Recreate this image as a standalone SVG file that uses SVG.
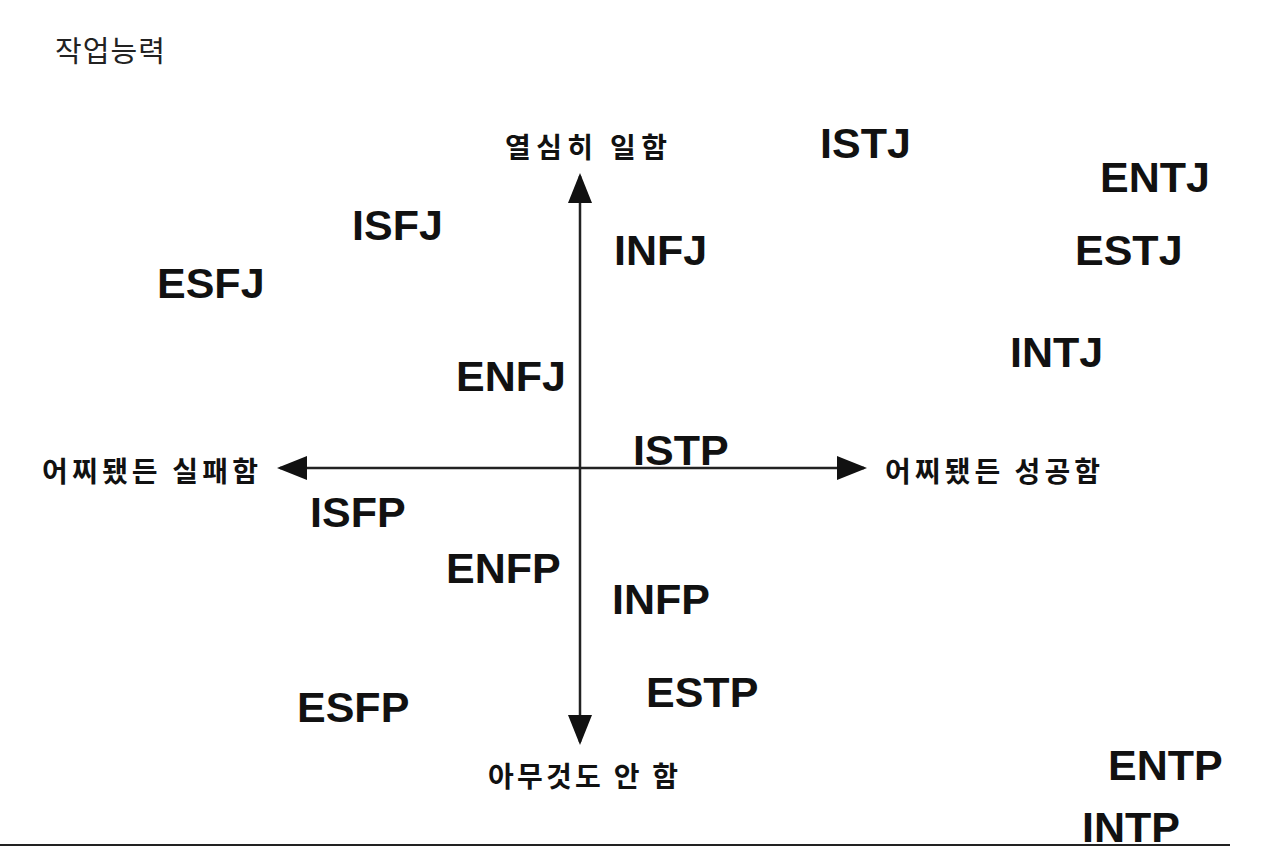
<svg xmlns="http://www.w3.org/2000/svg" width="1276" height="850" viewBox="0 0 1276 850">
<style>
.t{font-family:"Liberation Sans","Noto Sans CJK KR",sans-serif;font-weight:bold;font-size:43px;fill:#111}
.a{font-family:"Noto Sans CJK KR","Liberation Sans",sans-serif;font-size:28px;fill:#111;font-weight:bold}
.ax{stroke:#222;stroke-width:2.5}
</style>
<defs>
<marker id="arw" viewBox="0 0 10 10" refX="9" refY="5" markerWidth="30" markerHeight="24" markerUnits="userSpaceOnUse" orient="auto" preserveAspectRatio="none"><path d="M0,0L10,5L0,10Z" fill="#111"/></marker></defs>
<rect width="1276" height="850" fill="#fff"/>
<text x="55" y="62" style="font-family:'Noto Sans CJK KR',sans-serif;font-size:29px;fill:#222" textLength="110">작업능력</text>
<g id="connectors">
<line class="ax" x1="580" y1="468" x2="580" y2="176" marker-end="url(#arw)"/>
<line class="ax" x1="580" y1="468" x2="580" y2="742" marker-end="url(#arw)"/>
<line class="ax" x1="580" y1="468" x2="280" y2="468" marker-end="url(#arw)"/>
<line class="ax" x1="580" y1="468" x2="864" y2="468" marker-end="url(#arw)"/>
</g>
<line x1="0" y1="845" x2="1230" y2="845" stroke="#222" stroke-width="2"/>
<g id="axis-labels">
<text x="505" y="158" class="a" textLength="162">열심히 일함</text>
<text x="42" y="482" class="a" textLength="216">어찌됐든 실패함</text>
<text x="885" y="482" class="a" textLength="215">어찌됐든 성공함</text>
<text x="488" y="787" class="a" textLength="190">아무것도 안 함</text>
</g>
<g id="types">
<text id="ISTJ" class="t" x="820" y="158">ISTJ</text>
<text id="ENTJ" class="t" x="1100" y="192">ENTJ</text>
<text id="ISFJ" class="t" x="352" y="240">ISFJ</text>
<text id="INFJ" class="t" x="614" y="265">INFJ</text>
<text id="ESFJ" class="t" x="157" y="298">ESFJ</text>
<text id="ESTJ" class="t" x="1075" y="265">ESTJ</text>
<text id="INTJ" class="t" x="1010" y="367">INTJ</text>
<text id="ENFJ" class="t" x="456" y="391">ENFJ</text>
<text id="ISTP" class="t" x="633" y="465">ISTP</text>
<text id="ISFP" class="t" x="310" y="527">ISFP</text>
<text id="ENFP" class="t" x="446" y="583">ENFP</text>
<text id="INFP" class="t" x="612" y="614">INFP</text>
<text id="ESTP" class="t" x="646" y="707">ESTP</text>
<text id="ESFP" class="t" x="297" y="722">ESFP</text>
<text id="ENTP" class="t" x="1108" y="780">ENTP</text>
<text id="INTP" class="t" x="1082" y="842">INTP</text>
</g>
</svg>
